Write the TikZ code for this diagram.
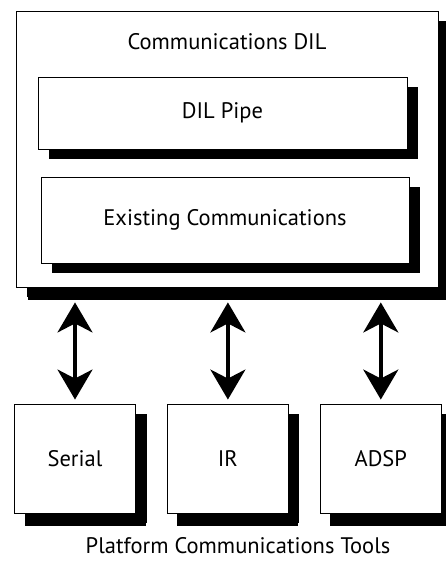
\documentclass[tikz,border=0pt]{standalone}
\usepackage{fontspec}
\setmainfont{PT Sans}
\usetikzlibrary{arrows.meta, positioning, shadows}

\begin{document}
\begin{tikzpicture}[x=1pt, y=-1pt,
      box/.style={draw=black, line width=0.9pt, fill=white, align=center, inner sep=0pt,
        font=\fontsize{22.5}{26}\selectfont,
        drop shadow={shadow xshift=11pt, shadow yshift=-10pt, fill=black, opacity=1}},
      big/.style={box, drop shadow={shadow xshift=12pt, shadow yshift=-13pt, fill=black, opacity=1}},
      tool/.style={box, minimum width=121pt, minimum height=109pt,
        drop shadow={shadow xshift=10pt, shadow yshift=-13pt, fill=black, opacity=1}},
      lbl/.style={font=\fontsize{22.5}{26}\selectfont, inner sep=0pt},
      arr/.style={{Stealth[length=30pt, width=35pt, inset=9pt]}-{Stealth[length=30pt, width=35pt, inset=9pt]},
        line width=3.5pt, shorten <=4pt, shorten >=15pt},
      node distance=31pt]
    \useasboundingbox (0,0) rectangle (445,561);
    % communications DIL block
    \node[big, minimum width=422pt, minimum height=276pt] (dil) at (227,149) {};
    \node[lbl] (title) at (227,42) {Communications DIL};
    \node[box, minimum width=369pt, minimum height=72pt] (pipe) at (222.5,113) {DIL Pipe};
    \node[box, minimum width=368pt, minimum height=86pt] (exist) at (225,220) {Existing Communications};
    % platform tools
    \node[tool] (serial) at (75,458.5) {Serial};
    \node[tool, right=of serial] (ir) {IR};
    \node[tool, right=of ir] (adsp) {ADSP};
    \node[lbl] (tools) at (238,546) {Platform Communications Tools};
    \draw[arr] (serial.north) -- (serial.north |- dil.south);
    \draw[arr] (ir.north) -- (ir.north |- dil.south);
    \draw[arr] (adsp.north) -- (adsp.north |- dil.south);
  \end{tikzpicture}
\end{document}
